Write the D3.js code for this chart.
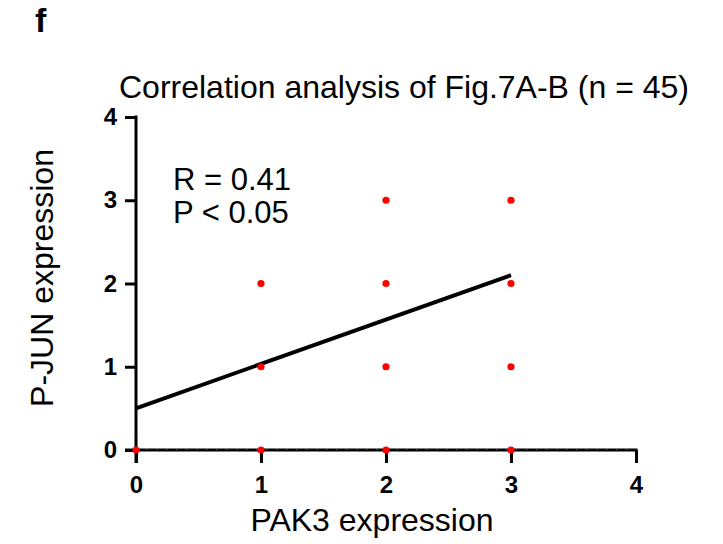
<!DOCTYPE html>
<html>
<head>
<meta charset="utf-8">
<script src="https://cdn.jsdelivr.net/npm/d3@7"></script>
<style>
  body { margin: 0; background: #fff; }
  text { font-family: "Liberation Sans", Arial, sans-serif; }
</style>
</head>
<body>
<div id="chart"></div>
<script>
const pak3 = [0, 1, 2, 3, 1, 2, 3, 1, 2, 3, 2, 3];
const pjun = [0, 0, 0, 0, 1, 1, 1, 2, 2, 2, 3, 3];
const fitX = [0, 3];
const fitY = [0.5, 2.1];
const xTicks = [0, 1, 2, 3, 4];
const yTicks = [0, 1, 2, 3, 4];

const width = 723;
const height = 544;

const svg = d3.select('#chart')
  .append('svg')
  .attr('width', width)
  .attr('height', height);

const x = d3.scaleLinear().domain([0, 4]).range([136, 636]);
const y = d3.scaleLinear().domain([0, 4]).range([450, 117]);

// panel letter
svg.append('text')
  .attr('x', 35).attr('y', 32)
  .attr('font-size', 34).attr('font-weight', 'bold')
  .text('f');

// title
svg.append('text')
  .attr('x', 404).attr('y', 98)
  .attr('text-anchor', 'middle')
  .attr('font-size', 32)
  .text('Correlation analysis of Fig.7A-B (n = 45)');

// y axis
const yAxis = svg.append('g')
  .attr('transform', `translate(${x(0)},0)`)
  .call(d3.axisLeft(y).tickValues(yTicks).tickSize(11).tickPadding(8).tickFormat(d3.format('d')));
yAxis.select('.domain').remove();
yAxis.selectAll('line').attr('stroke', '#000').attr('stroke-width', 3);
yAxis.selectAll('text').style('font-size', '24px').attr('font-weight', 'bold')
  .attr('font-family', '"Liberation Sans", Arial, sans-serif');
yAxis.append('line')
  .attr('x1', 0).attr('x2', 0)
  .attr('y1', y(4) - 1.5).attr('y2', y(0) + 13)
  .attr('stroke', '#000').attr('stroke-width', 3);

// x axis
const xAxis = svg.append('g')
  .attr('transform', `translate(0,${y(0)})`)
  .call(d3.axisBottom(x).tickValues(xTicks).tickSize(13).tickPadding(13).tickFormat(d3.format('d')));
xAxis.select('.domain').remove();
xAxis.selectAll('line').attr('stroke', '#000').attr('stroke-width', 3);
xAxis.selectAll('text').style('font-size', '24px').attr('font-weight', 'bold')
  .attr('font-family', '"Liberation Sans", Arial, sans-serif');
xAxis.append('line')
  .attr('x1', x(0) - 11).attr('x2', x(4) + 1.5)
  .attr('y1', 0).attr('y2', 0)
  .attr('stroke', '#000').attr('stroke-width', 3);
// dotted zero line over the axis
xAxis.append('line')
  .attr('x1', x(0)).attr('x2', x(4))
  .attr('y1', -1).attr('y2', -1)
  .attr('stroke', '#777').attr('stroke-width', 1.4)
  .attr('stroke-dasharray', '1.5,8.5');

// regression line
svg.append('line')
  .attr('x1', x(fitX[0])).attr('y1', y(fitY[0]))
  .attr('x2', x(fitX[1])).attr('y2', y(fitY[1]))
  .attr('stroke', '#000').attr('stroke-width', 4);

// points
svg.append('g')
  .selectAll('circle')
  .data(pak3.map((d, i) => [d, pjun[i]]))
  .join('circle')
  .attr('cx', d => x(d[0]))
  .attr('cy', d => y(d[1]))
  .attr('r', 3.6)
  .attr('fill', '#ff0000');

// annotation
svg.append('text')
  .attr('x', 173).attr('y', 190)
  .attr('font-size', 31)
  .text('R = 0.41');
svg.append('text')
  .attr('x', 173).attr('y', 223)
  .attr('font-size', 31)
  .text('P < 0.05');

// axis titles
svg.append('text')
  .attr('x', 372).attr('y', 531)
  .attr('text-anchor', 'middle')
  .attr('font-size', 32)
  .text('PAK3 expression');
svg.append('text')
  .attr('transform', 'translate(53,278) rotate(-90)')
  .attr('text-anchor', 'middle')
  .attr('font-size', 32)
  .text('P-JUN expression');
</script>
</body>
</html>
